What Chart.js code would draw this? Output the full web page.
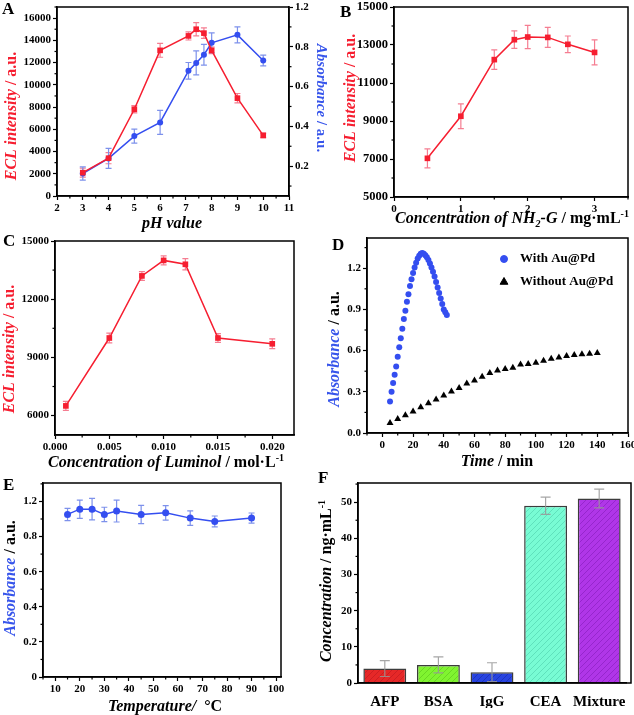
<!DOCTYPE html>
<html><head><meta charset="utf-8">
<script src="https://cdn.jsdelivr.net/npm/chart.js@4/dist/chart.umd.min.js"></script>
<style>
html,body{margin:0;padding:0;background:#fff;width:634px;height:715px;overflow:hidden}
canvas{position:absolute;left:0;top:0}
</style></head><body>
<canvas id="cA" width="634" height="715"></canvas>
<canvas id="cB" width="634" height="715"></canvas>
<canvas id="cC" width="634" height="715"></canvas>
<canvas id="cD" width="634" height="715"></canvas>
<canvas id="cE" width="634" height="715"></canvas>
<canvas id="cF" width="634" height="715"></canvas>
<script>
// ---------- DATA ----------
// Panel A
const phValues = [3, 4, 5, 6, 7.1, 7.4, 7.7, 8, 9, 10];
const aEcl = [2100, 3400, 7800, 13100, 14400, 15000, 14650, 13100, 8800, 5450];
const aEclErr = [400, 500, 330, 620, 370, 600, 480, 300, 420, 210];
const aAbs = [0.163, 0.239, 0.351, 0.42, 0.679, 0.719, 0.76, 0.82, 0.86, 0.731];
const aAbsErr = [0.033, 0.05, 0.035, 0.06, 0.042, 0.06, 0.052, 0.05, 0.04, 0.027];
const aXTicks = [2, 3, 4, 5, 6, 7, 8, 9, 10, 11];
const aYTicks = [0, 2000, 4000, 6000, 8000, 10000, 12000, 14000, 16000];
const aY2Ticks = [0.2, 0.4, 0.6, 0.8, 1.0];
const aY2Labels = ['0.2', '0.4', '0.6', '0.8', '1.2'];
// Panel B
const nhConc = [0.5, 1.0, 1.5, 1.8, 2.0, 2.3, 2.6, 3.0];
const bEcl = [7035, 9250, 12230, 13280, 13420, 13400, 13035, 12610];
const bEclErr = [500, 650, 510, 460, 610, 530, 440, 660];
const bXTicks = [0, 1, 2, 3];
const bYTicks = [5000, 7000, 9000, 11000, 13000, 15000];
// Panel C
const lumConc = [0.001, 0.005, 0.008, 0.010, 0.012, 0.015, 0.020];
const cEcl = [6500, 10000, 13200, 14000, 13800, 10000, 9700];
const cEclErr = [230, 250, 225, 230, 290, 225, 250];
const cXTicks = [0, 0.005, 0.010, 0.015, 0.020];
const cYTicks = [6000, 9000, 12000, 15000];
// Panel D
const timeWith = [5,6,7,8,9,10,11,12,13,14,15,16,17,18,19,20,21,22,23,24,25,26,27,28,29,30,31,32,33,34,35,36,37,38,39,40,41,42];
const absWith = [0.23,0.30,0.365,0.425,0.485,0.555,0.625,0.69,0.76,0.83,0.89,0.955,1.01,1.07,1.12,1.165,1.205,1.24,1.27,1.29,1.305,1.31,1.305,1.295,1.28,1.26,1.235,1.205,1.175,1.14,1.10,1.06,1.02,0.98,0.94,0.90,0.88,0.86];
const timeWithout = [5,10,15,20,25,30,35,40,45,50,55,60,65,70,75,80,85,90,95,100,105,110,115,120,125,130,135,140];
const absWithout = [0.073,0.102,0.129,0.156,0.188,0.217,0.244,0.273,0.302,0.327,0.361,0.383,0.41,0.437,0.456,0.466,0.476,0.498,0.502,0.512,0.527,0.541,0.549,0.561,0.568,0.573,0.578,0.583];
const dXTicks = [0, 20, 40, 60, 80, 100, 120, 140, 160];
const dYTicks = [0, 0.3, 0.6, 0.9, 1.2];
const dSeries = ['With Au@Pd', 'Without Au@Pd'];
// Panel E
const temps = [15, 20, 25, 30, 35, 45, 55, 65, 75, 90];
const eAbs = [0.926, 0.956, 0.956, 0.926, 0.945, 0.926, 0.935, 0.905, 0.886, 0.905];
const eAbsErr = [0.035, 0.052, 0.061, 0.041, 0.062, 0.052, 0.041, 0.041, 0.031, 0.029];
const eXTicks = [10, 20, 30, 40, 50, 60, 70, 80, 90, 100];
const eYTicks = [0, 0.2, 0.4, 0.6, 0.8, 1.0];
const eYLabels = ['0', '0.2', '0.4', '0.6', '0.8', '1.2'];
// Panel F
const proteins = ['AFP', 'BSA', 'IgG', 'CEA', 'Mixture'];
const fConc = [4, 5, 3, 49, 51];
const fConcErr = [2.2, 2.2, 2.6, 2.4, 2.6];
const fYTicks = [0, 10, 20, 30, 40, 50];

// ---------- STYLE ----------
const W = 634, H = 715;
const SERIF = '"Liberation Serif", "Times New Roman", serif';
const RED = 'rgb(246,30,48)';
const RED_ERR = 'rgb(245,125,145)';
const BLUE = 'rgb(52,78,240)';
const BLUE_ERR = 'rgb(125,145,235)';
const TBLUE = 'rgb(55,85,235)';
const tickFont = {family: SERIF, weight: 'bold', size: 11};
const tickFontB = {family: SERIF, weight: 'bold', size: 12.5};

function linAxis(o) {
  return {
    type: 'linear', position: o.position, min: o.min, max: o.max,
    border: {display: true, color: '#000', width: 1.5},
    grid: {display: true, drawOnChartArea: false, drawTicks: true, tickLength: 4, color: '#000', tickColor: '#000', tickWidth: 1.2},
    ticks: {font: o.font || tickFont, color: o.color || '#000', padding: o.pad == null ? 2 : o.pad, autoSkip: false, maxRotation: 0, minRotation: 0,
      callback: (v, i) => o.labels ? o.labels[i] : (o.fmt ? o.fmt(v) : String(v))},
    afterBuildTicks: s => { s.ticks = o.ticks.map(v => ({value: v})); },
    afterFit: s => {
      if (o.horizontal) s.height = o.size; else s.width = o.size;
      s.paddingTop = s.paddingBottom = s.paddingLeft = s.paddingRight = 0;
    }
  };
}

// ---------- PLUGINS ----------
const framePlugin = {id: 'frame', afterDraw(chart, a, opts) {
  const c = chart.ctx, ca = chart.chartArea;
  c.save(); c.strokeStyle = '#000'; c.lineWidth = 1.5;
  c.strokeRect(ca.left, ca.top, ca.right - ca.left + (opts.extendRight || 0), ca.bottom - ca.top);
  c.restore();
}};
const minorPlugin = {id: 'minorTicks', afterDraw(chart, a, opts) {
  const c = chart.ctx; c.save(); c.strokeStyle = '#000'; c.lineWidth = 1.2;
  for (const [id, step] of Object.entries(opts.steps || {})) {
    const s = chart.scales[id]; if (!s) continue;
    const majors = s.ticks.map(t => t.value);
    for (let k = Math.ceil(s.min / step - 1e-6); k * step <= s.max + 1e-9; k++) {
      const v = k * step;
      if (majors.some(m => Math.abs(m - v) < step * 1e-3)) continue;
      const p = s.getPixelForValue(v);
      c.beginPath();
      if (s.isHorizontal()) { c.moveTo(p, s.top); c.lineTo(p, s.top + 2.5); }
      else if (s.position === 'left') { c.moveTo(s.right, p); c.lineTo(s.right - 2.5, p); }
      else { c.moveTo(s.left, p); c.lineTo(s.left + 2.5, p); }
      c.stroke();
    }
  }
  c.restore();
}};
function drawErr(chart, onTop) {
  const c = chart.ctx;
  chart.data.datasets.forEach((ds, i) => {
    if (!ds.errorBars || !!ds.errorOnTop !== onTop) return;
    const meta = chart.getDatasetMeta(i);
    const ys = chart.scales[meta.yAxisID];
    c.save(); c.strokeStyle = ds.errorColor; c.lineWidth = 1.2;
    meta.data.forEach((el, j) => {
      const d = ds.data[j]; const v = typeof d === 'object' ? d.y : d;
      const e = ds.errorBars[j]; const cap = ds.errorCap || 3;
      const y1 = ys.getPixelForValue(v + e), y2 = ys.getPixelForValue(v - e);
      c.beginPath();
      c.moveTo(el.x, y1); c.lineTo(el.x, y2);
      c.moveTo(el.x - cap, y1); c.lineTo(el.x + cap, y1);
      c.moveTo(el.x - cap, y2); c.lineTo(el.x + cap, y2);
      c.stroke();
    });
    c.restore();
  });
}
const errPlugin = {id: 'errbars',
  beforeDatasetsDraw(chart) { drawErr(chart, false); },
  afterDatasetsDraw(chart) { drawErr(chart, true); }};
function drawRich(ctx, it) {
  const size = it.size || 16;
  ctx.save(); ctx.translate(it.x, it.y); if (it.rot) ctx.rotate(it.rot);
  const fonts = it.runs.map(r => `${r.i ? 'italic ' : ''}bold ${r.s ? Math.round(size * 0.62) : size}px ${SERIF}`);
  const ws = it.runs.map((r, k) => { ctx.font = fonts[k]; return ctx.measureText(r.t).width; });
  const tot = ws.reduce((a, b) => a + b, 0);
  let x = it.align === 'left' ? 0 : -tot / 2;
  const base = it.base ? 0 : size * 0.33;
  ctx.textBaseline = 'alphabetic'; ctx.textAlign = 'left';
  it.runs.forEach((r, k) => {
    ctx.font = fonts[k]; ctx.fillStyle = r.c || it.c || '#000';
    let dy = base; if (r.s === 'sub') dy += size * 0.22; if (r.s === 'sup') dy -= size * 0.38;
    ctx.fillText(r.t, x, dy); x += ws[k];
  });
  ctx.restore();
}
const textPlugin = {id: 'richText', afterDraw(chart, a, opts) {
  (opts.items || []).forEach(it => drawRich(chart.ctx, it));
}};
const legendPlugin = {id: 'ptLegend', afterDraw(chart, a, opts) {
  if (!opts.x) return;
  const c = chart.ctx;
  chart.data.datasets.forEach((ds, i) => {
    const y = opts.y + i * opts.gap;
    c.save();
    c.fillStyle = ds.pointBackgroundColor; c.strokeStyle = ds.pointBorderColor; c.lineWidth = 1;
    Chart.helpers.drawPoint(c, {pointStyle: ds.pointStyle, radius: ds.pointRadius + 0.5, borderWidth: 1}, opts.x, y);
    c.fillStyle = '#000'; c.font = `bold ${opts.size}px ${SERIF}`; c.textBaseline = 'middle'; c.textAlign = 'left';
    c.fillText(ds.label, opts.x + opts.textOffset, y);
    c.restore();
  });
}};
const PLUGINS = [framePlugin, minorPlugin, errPlugin, textPlugin, legendPlugin];

function make(id, cfg, area, sizes) {
  const padding = {
    left: area.l - sizes.yW,
    top: area.t,
    right: W - area.r - (sizes.y1W || 0),
    bottom: H - area.b - sizes.xH
  };
  cfg.options = Object.assign({
    responsive: false, animation: false, devicePixelRatio: 1, events: [],
    layout: {padding},
  }, cfg.options);
  cfg.options.plugins = Object.assign({legend: {display: false}, tooltip: {enabled: false}}, cfg.options.plugins);
  cfg.plugins = PLUGINS;
  return new Chart(document.getElementById(id), cfg);
}
const pts = (xs, ys) => xs.map((x, i) => ({x, y: ys[i]}));
const lineDs = (label, xs, ys, err, color, errColor, style, r, axis) => ({
  label, data: pts(xs, ys), borderColor: color, backgroundColor: color, borderWidth: 1.5,
  pointStyle: style, pointRadius: r, pointBackgroundColor: color, pointBorderColor: color, pointBorderWidth: 0,
  tension: 0, yAxisID: axis || 'y', errorBars: err, errorColor: errColor, errorCap: 3
});
const L = -Math.PI / 2, R = Math.PI / 2;

// ---------- PANEL A ----------
make('cA', {type: 'line', data: {datasets: [
  lineDs('ECL intensity', phValues, aEcl, aEclErr, RED, RED_ERR, 'rect', 4, 'y'),
  lineDs('Absorbance', phValues, aAbs, aAbsErr, BLUE, BLUE_ERR, 'circle', 3, 'y1')
]}, options: {
  scales: {
    x: linAxis({position: 'bottom', min: 2, max: 11, ticks: aXTicks, horizontal: true, size: 20}),
    y: linAxis({position: 'left', min: 0, max: 17000, ticks: aYTicks, size: 50}),
    y1: linAxis({position: 'right', min: 0.05, max: 1.0, ticks: aY2Ticks, labels: aY2Labels, size: 30})
  },
  plugins: {
    minorTicks: {steps: {x: 0.5, y: 1000, y1: 0.1}},
    richText: {items: [
      {x: 2, y: 14, size: 17, base: true, align: 'left', runs: [{t: 'A'}]},
      {x: 11, y: 116, rot: L, runs: [{t: 'ECL intensity', i: 1, c: RED}, {t: ' / a.u.', c: RED}]},
      {x: 322, y: 98, rot: R, size: 15, runs: [{t: 'Absorbance', i: 1, c: TBLUE}, {t: ' / a.u.', c: TBLUE}]},
      {x: 172, y: 223, runs: [{t: 'pH value', i: 1}]}
    ]}
  }
}}, {l: 57, t: 7, r: 289, b: 196}, {yW: 50, xH: 20, y1W: 30});

// ---------- PANEL B ----------
make('cB', {type: 'line', data: {datasets: [
  lineDs('ECL intensity', nhConc, bEcl, bEclErr, RED, RED_ERR, 'rect', 4)
]}, options: {
  scales: {
    x: linAxis({position: 'bottom', min: 0, max: 3.5, ticks: bXTicks, horizontal: true, size: 20}),
    y: linAxis({position: 'left', min: 5000, max: 15000, ticks: bYTicks, size: 45, font: tickFontB})
  },
  plugins: {
    minorTicks: {steps: {x: 0.5, y: 1000}},
    richText: {items: [
      {x: 340, y: 17, size: 17, base: true, align: 'left', runs: [{t: 'B'}]},
      {x: 350, y: 98, rot: L, runs: [{t: 'ECL intensity', i: 1, c: RED}, {t: ' / a.u.', c: RED}]},
      {x: 512, y: 218, runs: [{t: 'Concentration of NH', i: 1}, {t: '2', i: 1, s: 'sub'}, {t: '-G', i: 1}, {t: ' / mg·mL'}, {t: '-1', s: 'sup'}]}
    ]}
  }
}}, {l: 394, t: 7, r: 628, b: 197}, {yW: 45, xH: 20});

// ---------- PANEL C ----------
make('cC', {type: 'line', data: {datasets: [
  lineDs('ECL intensity', lumConc, cEcl, cEclErr, RED, RED_ERR, 'rect', 4)
]}, options: {
  scales: {
    x: linAxis({position: 'bottom', min: 0, max: 0.022, ticks: cXTicks, fmt: v => v.toFixed(3), horizontal: true, size: 20}),
    y: linAxis({position: 'left', min: 5000, max: 15000, ticks: cYTicks, size: 45})
  },
  plugins: {
    minorTicks: {steps: {x: 0.0025, y: 1500}},
    richText: {items: [
      {x: 3, y: 246, size: 17, base: true, align: 'left', runs: [{t: 'C'}]},
      {x: 9, y: 349, rot: L, runs: [{t: 'ECL intensity', i: 1, c: RED}, {t: ' / a.u.', c: RED}]},
      {x: 166, y: 462, runs: [{t: 'Concentration of Luminol', i: 1}, {t: ' / mol·L'}, {t: '-1', s: 'sup'}]}
    ]}
  }
}}, {l: 55, t: 241, r: 294, b: 435}, {yW: 45, xH: 20});

// ---------- PANEL D ----------
make('cD', {type: 'scatter', data: {datasets: [
  {label: dSeries[0], data: pts(timeWith, absWith), pointStyle: 'circle', pointRadius: 3,
   pointBackgroundColor: BLUE, pointBorderColor: BLUE, pointBorderWidth: 0, backgroundColor: BLUE, borderColor: BLUE},
  {label: dSeries[1], data: pts(timeWithout, absWithout), pointStyle: 'triangle', pointRadius: 4,
   pointBackgroundColor: '#000', pointBorderColor: '#000', pointBorderWidth: 0, backgroundColor: '#000', borderColor: '#000'}
]}, options: {
  scales: {
    x: linAxis({position: 'bottom', min: -10, max: 160, ticks: dXTicks, horizontal: true, size: 20}),
    y: linAxis({position: 'left', min: 0, max: 1.42, ticks: dYTicks, fmt: v => v.toFixed(1), size: 35})
  },
  plugins: {
    minorTicks: {steps: {x: 10, y: 0.15}},
    ptLegend: {x: 504, y: 259, gap: 23, size: 13, textOffset: 16},
    richText: {items: [
      {x: 332, y: 250, size: 17, base: true, align: 'left', runs: [{t: 'D'}]},
      {x: 334, y: 349, rot: L, runs: [{t: 'Absorbance', i: 1, c: TBLUE}, {t: ' / a.u.'}]},
      {x: 497, y: 461, runs: [{t: 'Time', i: 1}, {t: ' / min'}]}
    ]}
  }
}}, {l: 367, t: 238, r: 628, b: 433}, {yW: 35, xH: 20});

// ---------- PANEL E ----------
make('cE', {type: 'line', data: {datasets: [
  lineDs('Absorbance', temps, eAbs, eAbsErr, BLUE, BLUE_ERR, 'circle', 3.5)
]}, options: {
  scales: {
    x: linAxis({position: 'bottom', min: 5, max: 102, ticks: eXTicks, horizontal: true, size: 20}),
    y: linAxis({position: 'left', min: 0, max: 1.105, ticks: eYTicks, labels: eYLabels, size: 35})
  },
  plugins: {
    minorTicks: {steps: {x: 5, y: 0.1}},
    richText: {items: [
      {x: 3, y: 490, size: 17, base: true, align: 'left', runs: [{t: 'E'}]},
      {x: 10, y: 578, rot: L, runs: [{t: 'Absorbance', i: 1, c: TBLUE}, {t: ' / a.u.'}]},
      {x: 165, y: 706, runs: [{t: 'Temperature/', i: 1}, {t: '  °C'}]}
    ]}
  }
}}, {l: 43, t: 483, r: 281, b: 677}, {yW: 35, xH: 20});

// ---------- PANEL F ----------
function hatch(base, line) {
  const c = document.createElement('canvas'); c.width = c.height = 6;
  const g = c.getContext('2d'); g.fillStyle = base; g.fillRect(0, 0, 6, 6);
  g.strokeStyle = line; g.lineWidth = 1; g.beginPath();
  g.moveTo(0, 6); g.lineTo(6, 0); g.moveTo(-1, 1); g.lineTo(1, -1); g.moveTo(5, 7); g.lineTo(7, 5); g.stroke();
  return g.createPattern(c, 'repeat');
}
const fFill = [
  hatch('rgb(230,40,40)', 'rgb(205,30,35)'),
  hatch('rgb(128,244,48)', 'rgb(105,215,35)'),
  hatch('rgb(40,68,224)', 'rgb(30,52,190)'),
  hatch('rgb(120,252,212)', 'rgb(95,225,188)'),
  hatch('rgb(176,54,232)', 'rgb(150,38,205)')
];
const catFont = {family: SERIF, weight: 'bold', size: 15};
make('cF', {type: 'bar', data: {labels: proteins, datasets: [
  {label: 'Concentration', data: fConc, backgroundColor: fFill, borderColor: 'rgb(60,60,60)', borderWidth: 1.5,
   barPercentage: 0.8, categoryPercentage: 1, errorBars: fConcErr, errorColor: 'rgba(150,150,150,0.85)', errorCap: 5, errorOnTop: true}
]}, options: {
  scales: {
    x: {type: 'category', position: 'bottom',
      border: {display: true, color: '#000', width: 1.5},
      grid: {display: false, drawTicks: false},
      ticks: {font: catFont, color: '#000', padding: 10, autoSkip: false, maxRotation: 0},
      afterFit: s => { s.height = 25; s.paddingLeft = s.paddingRight = s.paddingTop = s.paddingBottom = 0; }},
    y: linAxis({position: 'left', min: 0, max: 55.3, ticks: fYTicks, size: 35})
  },
  plugins: {
    frame: {extendRight: 5},
    minorTicks: {steps: {y: 5}},
    richText: {items: [
      {x: 318, y: 483, size: 17, base: true, align: 'left', runs: [{t: 'F'}]},
      {x: 326, y: 581, rot: L, runs: [{t: 'Concentration', i: 1}, {t: ' / ng·mL'}, {t: '-1', s: 'sup'}]}
    ]}
  }
}}, {l: 358, t: 483, r: 626, b: 683}, {yW: 35, xH: 25});
</script>
</body></html>
